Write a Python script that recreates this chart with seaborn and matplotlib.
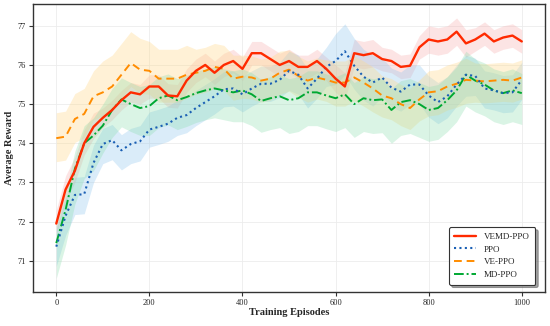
import numpy as np
import pandas as pd
import matplotlib
matplotlib.use("Agg")
import matplotlib.pyplot as plt
import seaborn as sns

episodes = list(range(0, 1001, 20))

vemd_ppo = [71.95, 72.82, 73.30, 74.00, 74.42, 74.65, 74.85, 75.10, 75.30, 75.25,
            75.45, 75.45, 75.22, 75.20, 75.60, 75.85, 76.00, 75.80, 76.00, 76.10,
            75.90, 76.30, 76.30, 76.15, 76.00, 76.10, 75.95, 75.95, 76.10, 75.90,
            75.65, 75.45, 76.30, 76.25, 76.30, 76.15, 76.10, 75.95, 75.98, 76.45,
            76.65, 76.60, 76.65, 76.85, 76.55, 76.65, 76.80, 76.60, 76.70, 76.75,
            76.60]
ppo = [71.36, 72.15, 72.68, 72.70, 73.50, 73.98, 74.08, 73.82, 73.98, 74.05,
       74.35, 74.42, 74.50, 74.65, 74.72, 74.90, 75.05, 75.20, 75.38, 75.40,
       75.25, 75.40, 75.52, 75.52, 75.62, 75.85, 75.75, 75.40, 75.65, 75.95,
       76.10, 76.35, 75.98, 75.70, 75.55, 75.68, 75.42, 75.32, 75.50, 75.50,
       75.22, 75.05, 75.20, 75.50, 75.75, 75.72, 75.40, 75.35, 75.28, 75.30,
       75.62]
ve_ppo = [74.13, 74.17, 74.62, 74.75, 75.20, 75.30, 75.45, 75.75, 76.05, 75.88,
          75.85, 75.65, 75.65, 75.65, 75.75, 75.80, 75.85, 75.95, 75.90, 75.65,
          75.70, 75.68, 75.60, 75.65, 75.80, 75.88, 75.72, 75.60, 75.68, 75.62,
          75.55, 75.55, 75.68, 75.55, 75.40, 75.22, 75.15, 75.00, 74.90, 75.12,
          75.30, 75.33, 75.45, 75.52, 75.62, 75.60, 75.58, 75.60, 75.62, 75.60,
          75.68]
md_ppo = [71.45, 72.30, 73.35, 74.00, 74.20, 74.45, 74.85, 75.12, 75.00, 74.90,
          74.95, 75.15, 75.22, 75.10, 75.18, 75.28, 75.35, 75.40, 75.35, 75.30,
          75.35, 75.25, 75.08, 75.15, 75.20, 75.10, 75.15, 75.30, 75.30, 75.22,
          75.15, 75.25, 75.00, 75.15, 75.10, 75.12, 74.85, 75.05, 75.10, 75.00,
          74.85, 74.90, 75.10, 75.35, 75.75, 75.60, 75.50, 75.35, 75.28, 75.35,
          75.28]

# band half-widths (above / below the line), one value per 100 episodes
vemd_up = [0.35, 0.25, 0.30, 0.30, 0.30, 0.30, 0.35, 0.30, 0.35, 0.30, 0.30]
vemd_dn = [0.30, 0.25, 0.30, 0.30, 0.30, 0.30, 0.35, 0.30, 0.35, 0.30, 0.30]
ppo_up = [0.45, 0.40, 0.45, 0.45, 0.45, 0.50, 0.70, 0.50, 0.50, 0.45, 0.45]
ppo_dn = [0.50, 0.50, 0.45, 0.45, 0.45, 0.50, 0.60, 0.50, 0.55, 0.50, 0.50]
ve_up = [0.65, 0.80, 0.75, 0.60, 0.55, 0.50, 0.55, 0.50, 0.55, 0.45, 0.45]
ve_dn = [0.60, 0.60, 0.60, 0.55, 0.55, 0.55, 0.60, 0.55, 0.60, 0.55, 0.55]
md_up = [0.45, 0.55, 0.55, 0.55, 0.55, 0.55, 0.55, 0.55, 0.60, 0.55, 0.50]
md_dn = [0.90, 0.70, 0.75, 0.75, 0.80, 0.85, 0.85, 0.85, 0.80, 0.80, 0.80]

labels = ["VEMD-PPO", "PPO", "VE-PPO", "MD-PPO"]
series = [vemd_ppo, ppo, ve_ppo, md_ppo]
ups = [vemd_up, ppo_up, ve_up, md_up]
dns = [vemd_dn, ppo_dn, ve_dn, md_dn]
line_colors = ["#ff2a00", "#1a5fb4", "#ff8c00", "#00a832"]
band_colors = ["#f7a0a0", "#8cc4ee", "#ffd98a", "#86dcaa"]
band_alpha = [0.28, 0.32, 0.35, 0.30]
styles = ["-", (0, (1, 1.6)), (0, (4, 2.5)), (0, (5, 1.5, 1, 1.5))]
widths = [1.7, 1.5, 1.4, 1.4]

sns.set_theme(style="whitegrid")
plt.rcParams["font.family"] = ["Liberation Serif", "DejaVu Serif"]

fig = plt.figure(figsize=(5.5, 3.26), dpi=100)
ax = fig.add_axes([0.06, 0.104, 0.931, 0.883])

rows = []
for lab, vals in zip(labels, series):
    for e, v in zip(episodes, vals):
        rows.append({"Episode": e, "Reward": v, "Method": lab})
df = pd.DataFrame(rows)

ep_arr = np.array(episodes)
zorders_band = [1, 1.1, 1.2, 1.3]
for i, lab in enumerate(labels):
    v = np.array(series[i])
    idx = np.minimum(ep_arr // 100, 10)
    up = np.array(ups[i])[idx]
    dn = np.array(dns[i])[idx]
    ax.fill_between(ep_arr, v - dn, v + up, color=band_colors[i], alpha=band_alpha[i],
                    linewidth=0, zorder=zorders_band[i])

for i, lab in enumerate(labels):
    sub = df[df["Method"] == lab]
    sns.lineplot(data=sub, x="Episode", y="Reward", ax=ax, color=line_colors[i],
                 linewidth=widths[i], linestyle=styles[i], label=lab, zorder=5 - i * 0.1)

ax.set_xlim(-50, 1050)
ax.set_ylim(70.2, 77.55)
ax.set_xticks([0, 200, 400, 600, 800, 1000])
ax.set_yticks([71, 72, 73, 74, 75, 76, 77])
ax.grid(True, color="#ececec", linewidth=0.6)
ax.set_facecolor("white")
for s in ax.spines.values():
    s.set_color("#333333")
    s.set_linewidth(1.0)
ax.tick_params(axis="both", which="major", labelsize=6, length=3, width=0.8,
               color="#333333", direction="out", bottom=True, left=True, pad=2)
ax.set_xlabel("Training Episodes", fontsize=7.5, fontweight="bold", labelpad=1)
ax.set_ylabel("Average Reward", fontsize=7.5, fontweight="bold", labelpad=3)

leg = ax.legend(loc="lower right", fontsize=6.5, frameon=True, shadow=True,
                fancybox=True, handlelength=2.4, borderpad=0.6, labelspacing=0.5,
                handletextpad=0.9, bbox_to_anchor=(0.99, 0.01))
leg.get_frame().set_edgecolor("#333333")
leg.get_frame().set_linewidth(0.8)
leg.get_frame().set_facecolor("white")
leg.get_frame().set_alpha(1.0)

fig.savefig("out.png", dpi=100)
